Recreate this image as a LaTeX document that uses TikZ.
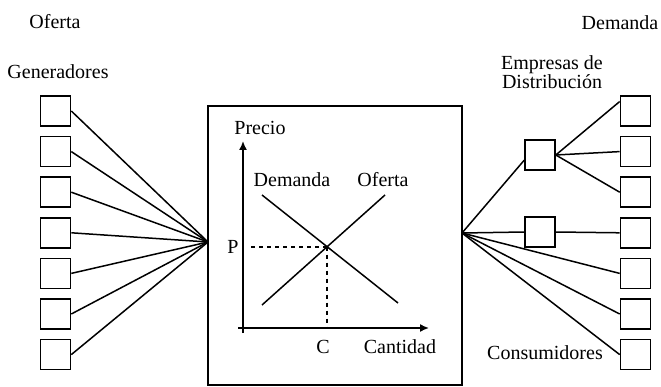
\documentclass[tikz,border=0pt]{standalone}
\usepackage{fontspec}
\setmainfont{Liberation Serif}
\usetikzlibrary{arrows.meta,calc}
\tikzset{
    bloque/.style={rectangle,draw,line width=1.6pt,minimum size=30pt,inner sep=0pt},
    mercado/.style={rectangle,draw,line width=1.6pt,minimum width=254pt,minimum height=279pt,inner sep=0pt},
    enlace/.style={line width=1.5pt},
    eje/.style={line width=1.6pt,-{Latex[length=9pt,width=8pt]}},
    guia/.style={line width=1.6pt,dash pattern=on 4pt off 4pt},
    rotulo/.style={font=\fontsize{20}{19}\selectfont,inner sep=0pt},
}
\begin{document}
\begin{tikzpicture}[x=1pt,y=-1pt]
\useasboundingbox (0,0) rectangle (661,387);
% Oferta: generadores
\node[rotulo] (oferta) at (55,22) {Oferta};
\node[rotulo] (gen) at (58,72) {Generadores};
\foreach \i in {1,...,7}
  \node[bloque] (g\i) at (55.5,{111+40.6*(\i-1)}) {};

% Mercado
\node[mercado] (mer) at (335,245.5) {};
\coordinate (entra) at (208,242);
\coordinate (sale) at (462,233);
\foreach \i in {1,...,7}
  \draw[enlace] (g\i.east) -- (entra);

% Curvas de oferta y demanda
\coordinate (xa) at (238,328);
\coordinate (xb) at (429,328);
\coordinate (ya) at (243,333);
\coordinate (yb) at (243,141);
\coordinate (d1) at (262,195);
\coordinate (d2) at (398,303);
\coordinate (s1) at (262,305);
\coordinate (s2) at (385,195);
\coordinate (eq) at (intersection of d1--d2 and s1--s2);
\draw[eje] (xa) -- (xb);
\draw[eje] (ya) -- (yb);
\draw[enlace] (d1) -- (d2);
\draw[enlace] (s1) -- (s2);
\draw[guia] ($(yb |- eq)+(8,0)$) -- (eq);
\draw[guia] (eq) -- (eq |- xa);
\node[rotulo] (precio) at (260,128) {Precio};
\node[rotulo] (lbd) at (292,180) {Demanda};
\node[rotulo] (lbo) at (383,180) {Oferta};
\node[rotulo] (p) at (233,247) {P};
\node[rotulo] (c) at (323,347) {C};
\node[rotulo] (cant) at (400,347) {Cantidad};

% Demanda: distribuidoras y consumidores
\node[rotulo] (demanda) at (620,23) {Demanda};
\node[rotulo,align=center] (emp) at (552,72.5) {Empresas de\\Distribución};
\node[bloque] (e1) at (540,155) {};
\node[bloque] (e2) at (540,232) {};
\foreach \i in {1,...,7}
  \node[bloque] (k\i) at (635.5,{111+40.6*(\i-1)}) {};
\node[rotulo] (cons) at (545,353) {Consumidores};

\draw[enlace] (sale) -- ($(e1.west)!0.33!(e1.south west)$);
\draw[enlace] (sale) -- (e2.west);
\foreach \i in {5,6,7}
  \draw[enlace] (sale) -- (k\i.west);
\draw[enlace] (e1.east) -- ($(k1.west)!0.6!(k1.north west)$);
\draw[enlace] (e1.east) -- (k2.west);
\draw[enlace] (e1.east) -- (k3.west);
\draw[enlace] (e2.east) -- (k4.west);
\end{tikzpicture}
\end{document}
